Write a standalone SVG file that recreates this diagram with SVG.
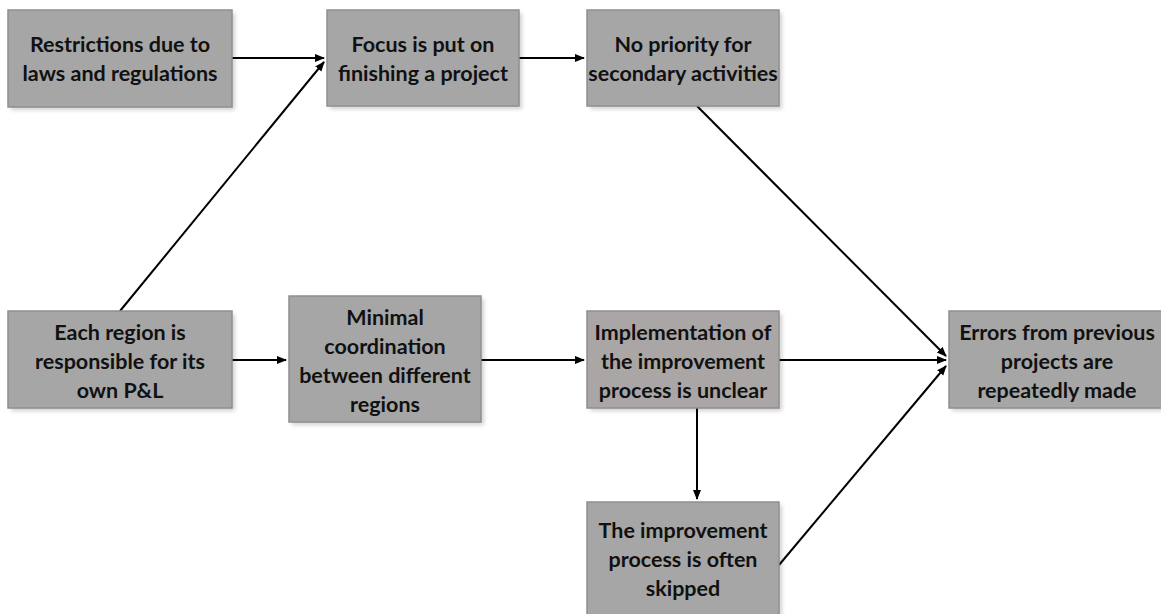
<svg xmlns="http://www.w3.org/2000/svg" width="1161" height="614" viewBox="0 0 1161 614">
<defs>
<style>
.box{fill:#a6a6a6;stroke:#8f8f8f;stroke-width:1.5}
.box2{fill:#aba6a6;stroke:#8f8f8f;stroke-width:1.5}
.sh{fill:#000;opacity:0.18}
.t{font-family:Lato,"Open Sans","Liberation Sans",sans-serif;font-weight:bold;font-size:21.5px;fill:#111;text-anchor:middle}
.c{stroke:#000;stroke-width:2;fill:none;marker-end:url(#ah)}
</style>
<marker id="ah" viewBox="0 0 10 10" refX="9" refY="5" markerWidth="5" markerHeight="5" orient="auto" markerUnits="strokeWidth">
<path d="M0,1 L10,5 L0,9 z" fill="#000"/>
</marker>
<filter id="blur" x="-10%" y="-10%" width="130%" height="130%"><feGaussianBlur stdDeviation="2"/></filter>
</defs>
<rect width="1161" height="614" fill="#fff"/>
<g id="connectors">
<line class="c" x1="232" y1="58" x2="324" y2="58"/>
<line class="c" x1="519" y1="58" x2="584" y2="58"/>
<line class="c" x1="120" y1="311" x2="324" y2="62"/>
<line class="c" x1="232" y1="360" x2="286" y2="360"/>
<line class="c" x1="481" y1="360" x2="584" y2="360"/>
<line class="c" x1="779" y1="360" x2="946" y2="360"/>
<line class="c" x1="697" y1="106" x2="946" y2="356"/>
<line class="c" x1="697" y1="408" x2="697" y2="499"/>
<line class="c" x1="779" y1="565" x2="946" y2="366"/>
</g>
<g id="n1">
<rect class="sh" x="11" y="13" width="224" height="97" filter="url(#blur)"/>
<rect class="box" x="8" y="10" width="224" height="97"/>
<text class="t" x="120" y="52">Restrictions due to</text>
<text class="t" x="120" y="81">laws and regulations</text>
</g>
<g id="n2">
<rect class="sh" x="330" y="13" width="192" height="96" filter="url(#blur)"/>
<rect class="box" x="327" y="10" width="192" height="96"/>
<text class="t" x="423" y="52">Focus is put on</text>
<text class="t" x="423" y="81">finishing a project</text>
</g>
<g id="n3">
<rect class="sh" x="590" y="13" width="192" height="96" filter="url(#blur)"/>
<rect class="box" x="587" y="10" width="192" height="96"/>
<text class="t" x="683" y="52">No priority for</text>
<text class="t" x="683" y="81">secondary activities</text>
</g>
<g id="n4">
<rect class="sh" x="11" y="314" width="224" height="97" filter="url(#blur)"/>
<rect class="box" x="8" y="311" width="224" height="97"/>
<text class="t" x="120" y="340">Each region is</text>
<text class="t" x="120" y="369">responsible for its</text>
<text class="t" x="120" y="398">own P&amp;L</text>
</g>
<g id="n5">
<rect class="sh" x="292" y="299" width="192" height="126" filter="url(#blur)"/>
<rect class="box" x="289" y="296" width="192" height="126"/>
<text class="t" x="385" y="325">Minimal</text>
<text class="t" x="385" y="354">coordination</text>
<text class="t" x="385" y="383">between different</text>
<text class="t" x="385" y="412">regions</text>
</g>
<g id="n6">
<rect class="sh" x="590" y="314" width="192" height="97" filter="url(#blur)"/>
<rect class="box2" x="587" y="311" width="192" height="97"/>
<text class="t" x="683" y="340">Implementation of</text>
<text class="t" x="683" y="369">the improvement</text>
<text class="t" x="683" y="398">process is unclear</text>
</g>
<g id="n7">
<rect class="sh" x="952" y="314" width="212" height="97" filter="url(#blur)"/>
<rect class="box" x="949" y="311" width="214" height="97"/>
<text class="t" x="1057" y="340">Errors from previous</text>
<text class="t" x="1057" y="369">projects are</text>
<text class="t" x="1057" y="398">repeatedly made</text>
</g>
<g id="n8">
<rect class="sh" x="590" y="505" width="192" height="112" filter="url(#blur)"/>
<rect class="box" x="587" y="502" width="192" height="115"/>
<text class="t" x="683" y="538">The improvement</text>
<text class="t" x="683" y="567">process is often</text>
<text class="t" x="683" y="596">skipped</text>
</g>
</svg>
